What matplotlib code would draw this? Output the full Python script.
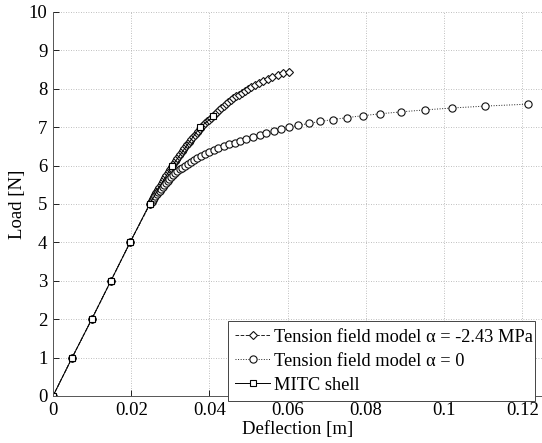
import matplotlib
matplotlib.use("Agg")
import matplotlib.pyplot as plt

plt.rcParams['font.family'] = ['Liberation Serif', 'DejaVu Serif']
plt.rcParams['mathtext.fontset'] = 'stix'

# ---- data ----
lin_load = [0, 1, 2, 3, 4]
lin_defl = [0.0, 0.0049, 0.0099, 0.0148, 0.0197]

tf_load = [5.00, 5.05, 5.10, 5.15, 5.20, 5.25, 5.30, 5.35, 5.40, 5.45,
           5.50, 5.55, 5.60, 5.65, 5.70, 5.75, 5.80, 5.85, 5.90, 5.95,
           6.00, 6.05, 6.10, 6.15, 6.20, 6.25, 6.30, 6.35, 6.40, 6.45,
           6.50, 6.55, 6.60, 6.65, 6.70, 6.75, 6.80, 6.85, 6.90, 6.95,
           7.00, 7.05, 7.10, 7.15, 7.20, 7.25, 7.30, 7.35, 7.40, 7.45,
           7.50, 7.55, 7.60, 7.65, 7.70, 7.75, 7.80, 7.85, 7.90, 7.95,
           8.00, 8.05, 8.10, 8.15, 8.20, 8.25, 8.30, 8.35, 8.40, 8.45]
tf_defl = [0.0248, 0.0251, 0.0253, 0.0256, 0.0258, 0.0261, 0.0264, 0.0267, 0.0269, 0.0272,
           0.0275, 0.0278, 0.0281, 0.0284, 0.0287, 0.0290, 0.0293, 0.0296, 0.0299, 0.0302,
           0.0305, 0.0308, 0.0312, 0.0315, 0.0318, 0.0322, 0.0325, 0.0329, 0.0332, 0.0336,
           0.0339, 0.0343, 0.0347, 0.0351, 0.0354, 0.0358, 0.0362, 0.0367, 0.0371, 0.0375,
           0.0379, 0.0384, 0.0389, 0.0393, 0.0398, 0.0403, 0.0408, 0.0413, 0.0419, 0.0424,
           0.0430, 0.0436, 0.0442, 0.0448, 0.0454, 0.0461, 0.0468, 0.0475, 0.0482, 0.0490,
           0.0498, 0.0507, 0.0516, 0.0526, 0.0537, 0.0549, 0.0561, 0.0574, 0.0588, 0.0602]

tf0_load = [5.00, 5.05, 5.10, 5.15, 5.20, 5.25, 5.30, 5.35, 5.40, 5.45,
            5.50, 5.55, 5.60, 5.65, 5.70, 5.75, 5.80, 5.85, 5.90, 5.95,
            6.00, 6.05, 6.10, 6.15, 6.20, 6.25, 6.30, 6.35, 6.40, 6.45,
            6.50, 6.55, 6.60, 6.65, 6.70, 6.75, 6.80, 6.85, 6.90, 6.95,
            7.00, 7.05, 7.10, 7.15, 7.20, 7.25, 7.30, 7.35, 7.40, 7.45,
            7.50, 7.55, 7.60]
tf0_defl = [0.0248, 0.0252, 0.0255, 0.0259, 0.0262, 0.0266, 0.0269, 0.0273, 0.0277, 0.0281,
            0.0285, 0.0289, 0.0293, 0.0297, 0.0302, 0.0307, 0.0312, 0.0318, 0.0324, 0.0330,
            0.0337, 0.0344, 0.0352, 0.0360, 0.0369, 0.0378, 0.0388, 0.0399, 0.0411, 0.0423,
            0.0436, 0.0450, 0.0465, 0.0479, 0.0494, 0.0510, 0.0528, 0.0545, 0.0564, 0.0582,
            0.0604, 0.0627, 0.0655, 0.0683, 0.0716, 0.0752, 0.0792, 0.0837, 0.0890, 0.0950,
            0.1020, 0.1105, 0.1213]

mitc_load = [0, 1, 2, 3, 4, 5, 6, 7, 7.28]
mitc_defl = [0.0, 0.0049, 0.0099, 0.0148, 0.0197, 0.0247, 0.0305, 0.0376, 0.0410]

x_ticks = [0, 0.02, 0.04, 0.06, 0.08, 0.1, 0.12]
x_ticklabels = ['0', '0.02', '0.04', '0.06', '0.08', '0.1', '0.12']
y_ticks = list(range(0, 11))

labels = ['Tension field model \u03b1 = -2.43 MPa',
          'Tension field model \u03b1 = 0',
          'MITC shell']

# ---- figure ----
fig = plt.figure(figsize=(5.42, 4.43), dpi=100)
ax = fig.add_axes([53/542, 47/443, 489/542, 384/443])

lw = 0.7
ax.plot(lin_defl + tf_defl, lin_load + tf_load, linestyle='--', color='#222222',
        lw=lw, marker='D', markersize=4.2, markerfacecolor='white',
        markeredgecolor='#111111', markeredgewidth=0.8, label=labels[0])
ax.plot(lin_defl + tf0_defl, lin_load + tf0_load, linestyle=':', color='#222222',
        lw=lw, marker='o', markersize=5.2, markerfacecolor='white',
        markeredgecolor='#111111', markeredgewidth=0.8, label=labels[1])
ax.plot(mitc_defl, mitc_load, linestyle='-', color='black',
        lw=lw, marker='s', markersize=4.5, markerfacecolor='white',
        markeredgecolor='black', markeredgewidth=0.8, label=labels[2])

ax.set_xlim(0, 0.125)
ax.set_ylim(0, 10)
ax.set_xticks(x_ticks)
ax.set_xticklabels(x_ticklabels)
ax.set_yticks(y_ticks)
ax.tick_params(direction='in', labelsize=13.5, length=4, width=0.6, pad=4)
ax.grid(True, linestyle=(0, (1, 2)), color='#aaaaaa', linewidth=0.6)
ax.set_axisbelow(True)
for s in ['top', 'right']:
    ax.spines[s].set_visible(False)
for s in ['left', 'bottom']:
    ax.spines[s].set_linewidth(0.7)
    ax.spines[s].set_color('#555555')

ax.set_xlabel('Deflection [m]', fontsize=13.5, labelpad=2)
ax.set_ylabel('Load [N]', fontsize=13.5, labelpad=2)

leg = fig.legend(loc='lower left', bbox_to_anchor=(228/542, 42/443, 307/542, 83/443),
                 mode='expand', fontsize=13.2, handlelength=1.9, handletextpad=0.2,
                 borderpad=0.4, labelspacing=0.38, borderaxespad=0, fancybox=False,
                 framealpha=1, edgecolor='#444444')
leg.get_frame().set_linewidth(0.7)

fig.savefig('out.png', dpi=100)
